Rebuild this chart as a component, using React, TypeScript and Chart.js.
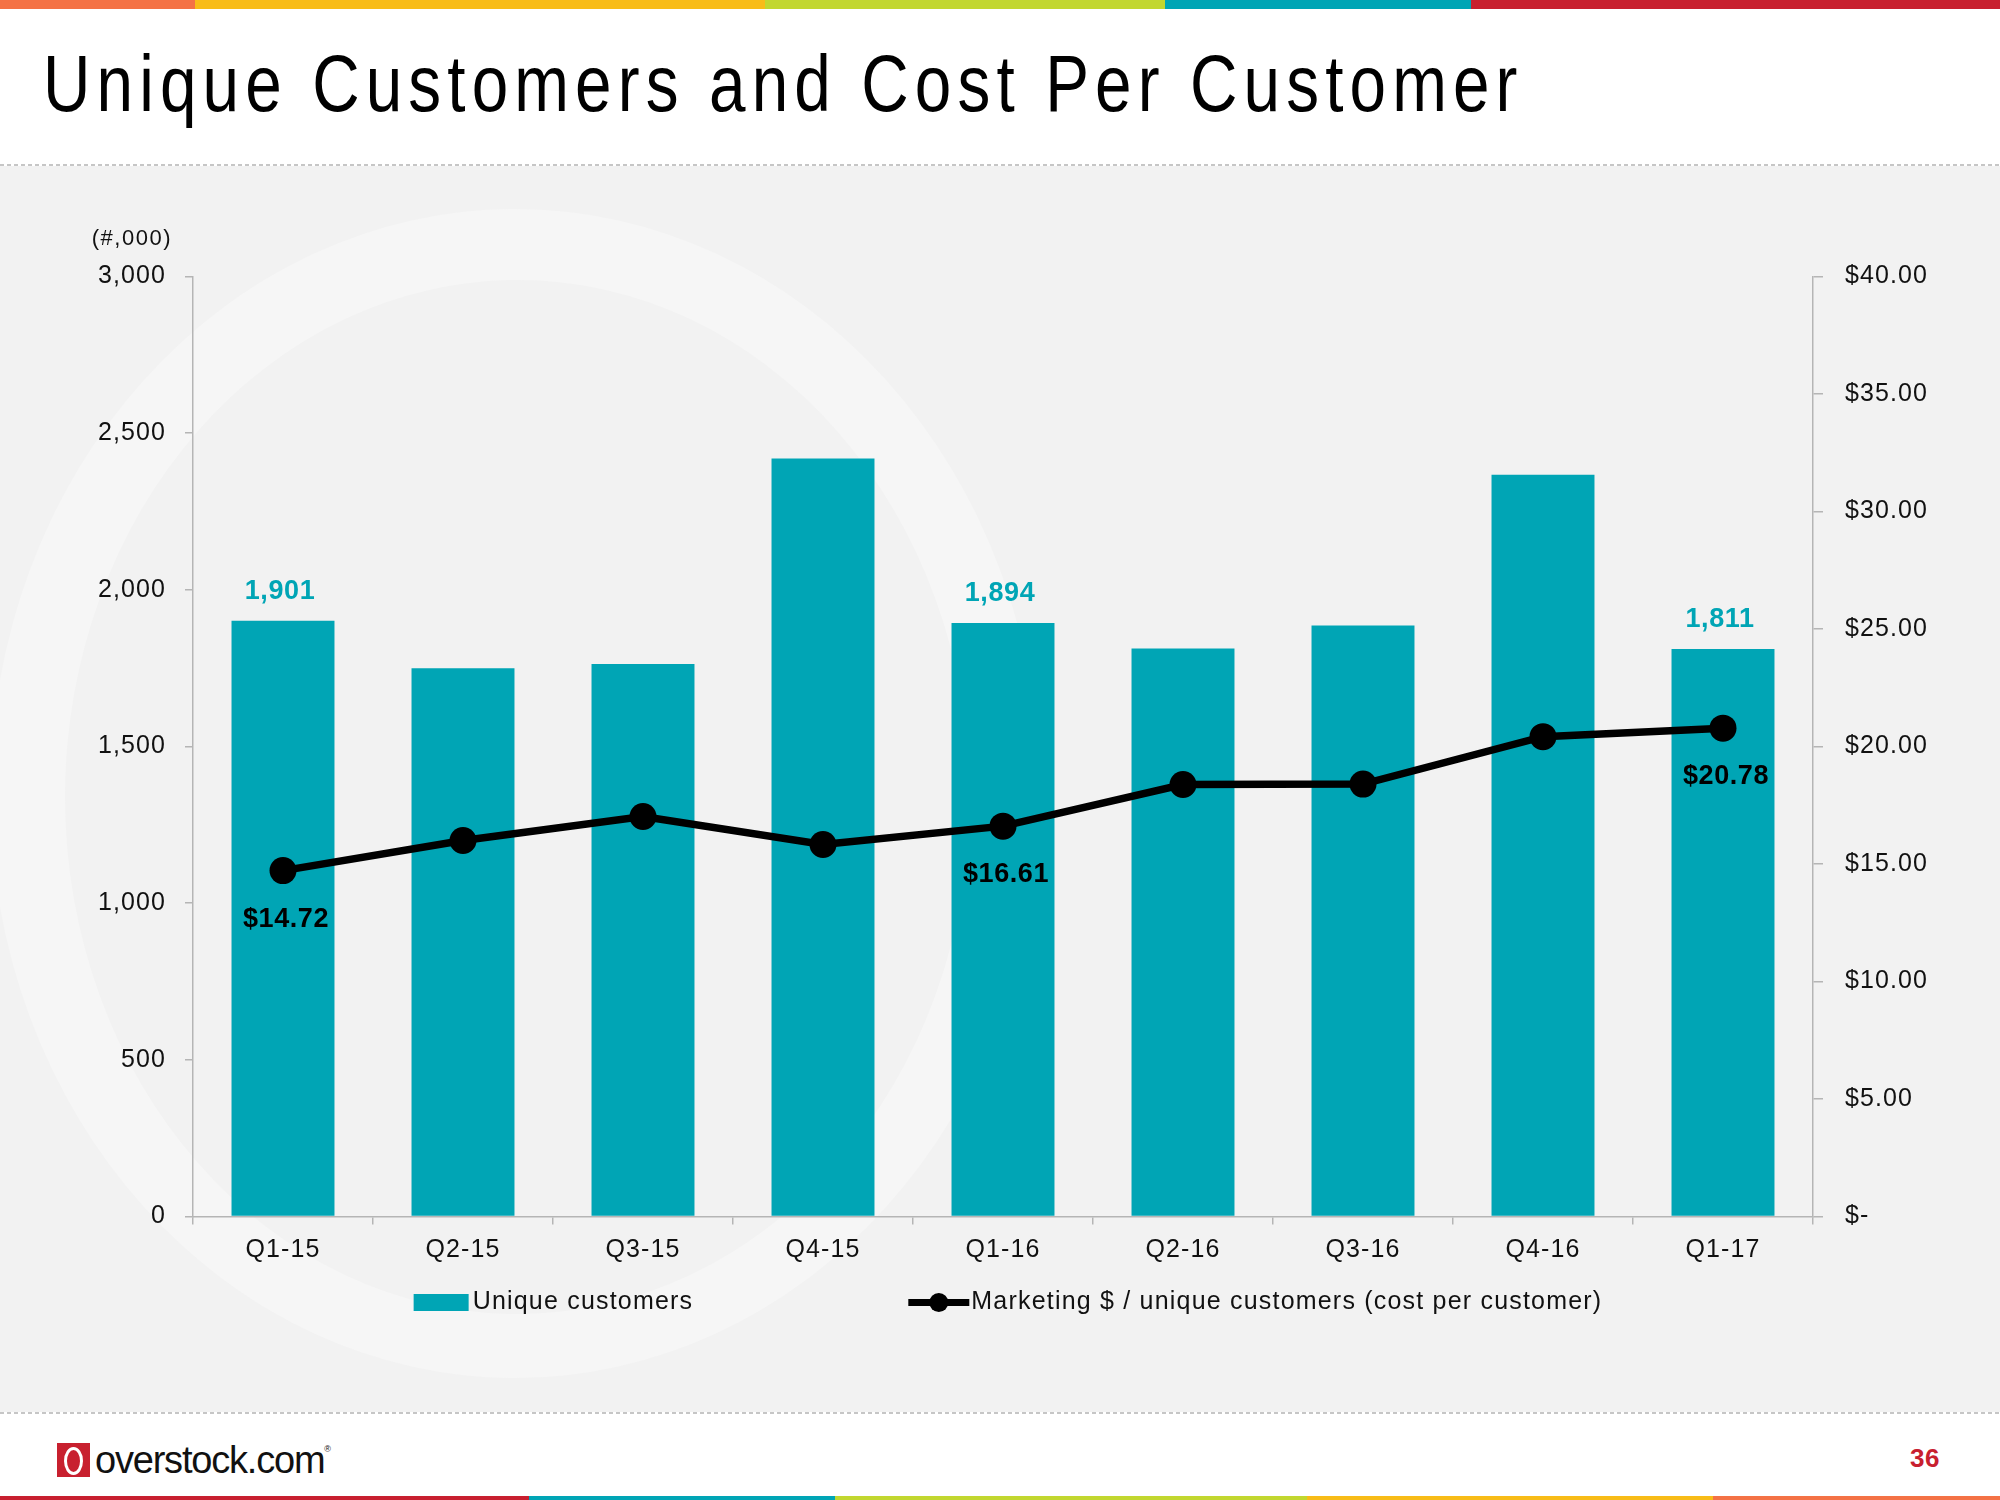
import React, { useEffect, useRef } from 'react';
import { Chart, registerables } from 'chart.js';

Chart.register(...registerables);

// ---------- data ----------
const categories = ['Q1-15', 'Q2-15', 'Q3-15', 'Q4-15', 'Q1-16', 'Q2-16', 'Q3-16', 'Q4-16', 'Q1-17'];
const uniqueCustomers = [1901, 1750, 1763, 2419, 1894, 1813, 1886, 2367, 1811];
const costPerCustomer = [14.72, 16.0, 17.02, 15.83, 16.61, 18.38, 18.4, 20.42, 20.78];
const labeledIndices = [0, 4, 8];
const customersLabel = 'Unique customers';
const costLabel = 'Marketing $ / unique customers (cost per customer)';
const leftAxisNote = '(#,000)';
const leftAxisMax = 3000;
const leftAxisStep = 500;
const rightAxisMax = 40;
const rightAxisStep = 5;
const titleText = 'Unique Customers and Cost Per Customer';
const pageNumber = '36';

const TEAL = '#00a5b5';
const RED = '#c8202f';
const AXIS_GREY = '#b5b5b5';
const TEXT = '#111111';
const FONT = '"Liberation Sans", Arial, Helvetica, sans-serif';
const SPACING = '1.1px';

const fmtThousands = (v: number) => v.toLocaleString('en-US');
const fmtDollar = (v: number) => (v === 0 ? '$-' : '$' + v.toFixed(2));

const spacingPlugin = {
  id: 'letterSpacing',
  beforeLayout(chart: any) {
    chart.ctx.letterSpacing = SPACING;
  },
  beforeDraw(chart: any) {
    chart.ctx.letterSpacing = SPACING;
  },
};

const labelsPlugin = {
  id: 'valueLabels',
  afterDatasetsDraw(chart: any) {
    const ctx = chart.ctx;
    const barMeta = chart.getDatasetMeta(0);
    const lineMeta = chart.getDatasetMeta(1);
    ctx.save();
    ctx.letterSpacing = '0.6px';
    ctx.font = `bold 27px ${FONT}`;
    ctx.textAlign = 'center';
    ctx.textBaseline = 'alphabetic';
    labeledIndices.forEach((i) => {
      const bar = barMeta.data[i];
      ctx.fillStyle = TEAL;
      ctx.fillText(fmtThousands(uniqueCustomers[i]), bar.x - 3, bar.y - 22);
      const pt = lineMeta.data[i];
      ctx.fillStyle = '#000';
      ctx.fillText('$' + costPerCustomer[i].toFixed(2), pt.x + 3, pt.y + 56);
    });
    // axis unit note
    const yScale = chart.scales.y;
    ctx.font = `22px ${FONT}`;
    ctx.letterSpacing = '1.5px';
    ctx.fillStyle = TEXT;
    ctx.textAlign = 'right';
    ctx.textBaseline = 'middle';
    ctx.fillText(leftAxisNote, yScale.right - 21, chart.chartArea.top - 38);
    ctx.restore();
  },
};

const legendPlugin = {
  id: 'customLegend',
  afterDraw(chart: any) {
    const { ctx, chartArea } = chart;
    const ds = chart.data.datasets;
    ctx.save();
    ctx.font = `25px ${FONT}`;
    ctx.letterSpacing = '1.2px';
    const boxW = 55;
    const boxH = 17;
    const lineW = 61;
    const gapBox = 4;
    const gapLine = 2;
    const itemGap = 215;
    const t1 = ctx.measureText(ds[0].label).width;
    const t2 = ctx.measureText(ds[1].label).width;
    const total = boxW + gapBox + t1 + itemGap + lineW + gapLine + t2;
    let x = (chartArea.left + chartArea.right) / 2 + 5 - total / 2;
    const y = chartArea.bottom + 86;
    ctx.fillStyle = ds[0].backgroundColor;
    ctx.fillRect(x, y - boxH / 2, boxW, boxH);
    x += boxW + gapBox;
    ctx.fillStyle = TEXT;
    ctx.textAlign = 'left';
    ctx.textBaseline = 'middle';
    ctx.fillText(ds[0].label, x, y);
    x += t1 + itemGap;
    ctx.strokeStyle = ds[1].borderColor;
    ctx.lineWidth = 7;
    ctx.beginPath();
    ctx.moveTo(x, y);
    ctx.lineTo(x + lineW, y);
    ctx.stroke();
    ctx.fillStyle = ds[1].borderColor;
    ctx.beginPath();
    ctx.arc(x + lineW / 2, y, 9.5, 0, Math.PI * 2);
    ctx.fill();
    x += lineW + gapLine;
    ctx.fillStyle = TEXT;
    ctx.fillText(ds[1].label, x, y);
    ctx.restore();
  },
};

const topBar = [
  { w: 195, c: '#f47245' },
  { w: 570, c: '#f8bc18' },
  { w: 400, c: '#c2d72f' },
  { w: 306, c: '#00a5b5' },
  { w: 529, c: '#c8202f' },
];
const bottomBar = [
  { w: 529, c: '#c8202f' },
  { w: 306, c: '#00a5b5' },
  { w: 472, c: '#c2d72f' },
  { w: 406, c: '#f8bc18' },
  { w: 287, c: '#f47245' },
];

const dotted: React.CSSProperties = {
  position: 'absolute',
  left: 0,
  width: 2000,
  height: 2,
  background: 'repeating-linear-gradient(90deg, #c6c6c6 0 4px, transparent 4px 7px)',
};

export default function App() {
  const canvasRef = useRef<HTMLCanvasElement>(null);

  useEffect(() => {
    const canvas = canvasRef.current!;
    const chart = new Chart(canvas, {
      type: 'bar',
      data: {
        labels: categories,
        datasets: [
          {
            type: 'bar',
            label: customersLabel,
            data: uniqueCustomers,
            backgroundColor: TEAL,
            yAxisID: 'y',
            order: 2,
            barPercentage: 0.572,
            categoryPercentage: 1,
          },
          {
            type: 'line',
            label: costLabel,
            data: costPerCustomer,
            borderColor: '#000',
            backgroundColor: '#000',
            borderWidth: 7.5,
            pointRadius: 13.5,
            pointBackgroundColor: '#000',
            pointBorderWidth: 0,
            pointHoverRadius: 13.5,
            yAxisID: 'y1',
            order: 1,
            tension: 0,
          },
        ] as any,
      },
      options: {
        responsive: false,
        animation: false,
        events: [],
        layout: { padding: { left: 0, right: 0, top: 276.5, bottom: 203.5 } },
        plugins: { legend: { display: false }, tooltip: { enabled: false } },
        scales: {
          x: {
            offset: true,
            grid: { offset: true, drawOnChartArea: false, drawTicks: true, tickLength: 8, color: AXIS_GREY, lineWidth: 1.5 },
            border: { display: true, color: AXIS_GREY, width: 1.5 },
            ticks: { font: { family: FONT, size: 25 }, color: TEXT, padding: 11, autoSkip: false, maxRotation: 0, minRotation: 0 },
            afterFit: (scale: any) => {
              scale.height = 80;
            },
          },
          y: {
            position: 'left',
            min: 0,
            max: leftAxisMax,
            grid: { drawOnChartArea: false, drawTicks: true, tickLength: 8, color: AXIS_GREY, lineWidth: 1.5 },
            border: { display: true, color: AXIS_GREY, width: 1.5 },
            ticks: { stepSize: leftAxisStep, font: { family: FONT, size: 25 }, color: TEXT, padding: 19, callback: (v: any) => fmtThousands(Number(v)) },
            afterFit: (scale: any) => {
              scale.width = 193;
            },
          },
          y1: {
            position: 'right',
            min: 0,
            max: rightAxisMax,
            grid: { drawOnChartArea: false, drawTicks: true, tickLength: 10, color: AXIS_GREY, lineWidth: 1.5 },
            border: { display: true, color: AXIS_GREY, width: 1.5 },
            ticks: { stepSize: rightAxisStep, font: { family: FONT, size: 25 }, color: TEXT, padding: 22, callback: (v: any) => fmtDollar(Number(v)) },
            afterFit: (scale: any) => {
              scale.width = 187;
            },
          },
        },
      } as any,
      plugins: [spacingPlugin, labelsPlugin, legendPlugin],
    });
    return () => chart.destroy();
  }, []);

  return (
    <div style={{ position: 'absolute', left: 0, top: 0, width: 2000, height: 1500, background: '#fff', overflow: 'hidden', fontFamily: FONT }}>
      {/* top colour bar */}
      <div style={{ position: 'absolute', left: 0, top: 0, height: 9, display: 'flex' }}>
        {topBar.map((s, i) => (
          <div key={i} style={{ width: s.w, height: 9, background: s.c }} />
        ))}
      </div>
      {/* title */}
      <div
        style={{
          position: 'absolute',
          left: 43,
          top: 44,
          fontSize: 80,
          lineHeight: 1,
          letterSpacing: '7.5px',
          color: '#000',
          whiteSpace: 'nowrap',
          transform: 'scaleX(0.82)',
          transformOrigin: 'left top',
        }}
      >
        {titleText}
      </div>
      <div style={{ ...dotted, top: 164 }} />
      {/* grey panel with watermark */}
      <div style={{ position: 'absolute', left: 0, top: 166, width: 2000, height: 1246, background: '#f2f2f2', overflow: 'hidden' }}>
        <div style={{ position: 'absolute', left: -10, top: 43, width: 1050, height: 1169, borderRadius: '50%', background: '#f6f6f6' }} />
        <div style={{ position: 'absolute', left: 65, top: 114, width: 905, height: 1034, borderRadius: '50%', background: '#f2f2f2' }} />
      </div>
      <div style={{ ...dotted, top: 1412 }} />
      {/* footer */}
      <div style={{ position: 'absolute', left: 57, top: 1443, width: 33, height: 34, background: RED }}>
        <div style={{ position: 'absolute', left: 7, top: 4, width: 13, height: 22, border: '3px solid #fff', borderRadius: '50%' }} />
      </div>
      <div style={{ position: 'absolute', left: 95, top: 1441, fontSize: 38, lineHeight: 1, letterSpacing: '-1.2px', color: '#111', whiteSpace: 'nowrap' }}>
        overstock.com<span style={{ fontSize: 9, verticalAlign: 'top', position: 'relative', top: 4 }}>®</span>
      </div>
      <div style={{ position: 'absolute', left: 1910, top: 1445, fontSize: 26, lineHeight: 1, letterSpacing: '0.5px', color: RED, fontWeight: 'bold' }}>
        {pageNumber}
      </div>
      <div style={{ position: 'absolute', left: 0, top: 1496, height: 4, display: 'flex' }}>
        {bottomBar.map((s, i) => (
          <div key={i} style={{ width: s.w, height: 4, background: s.c }} />
        ))}
      </div>
      {/* chart */}
      <canvas ref={canvasRef} width={2000} height={1500} style={{ position: 'absolute', left: 0, top: 0, width: 2000, height: 1500, display: 'block' }} />
    </div>
  );
}
